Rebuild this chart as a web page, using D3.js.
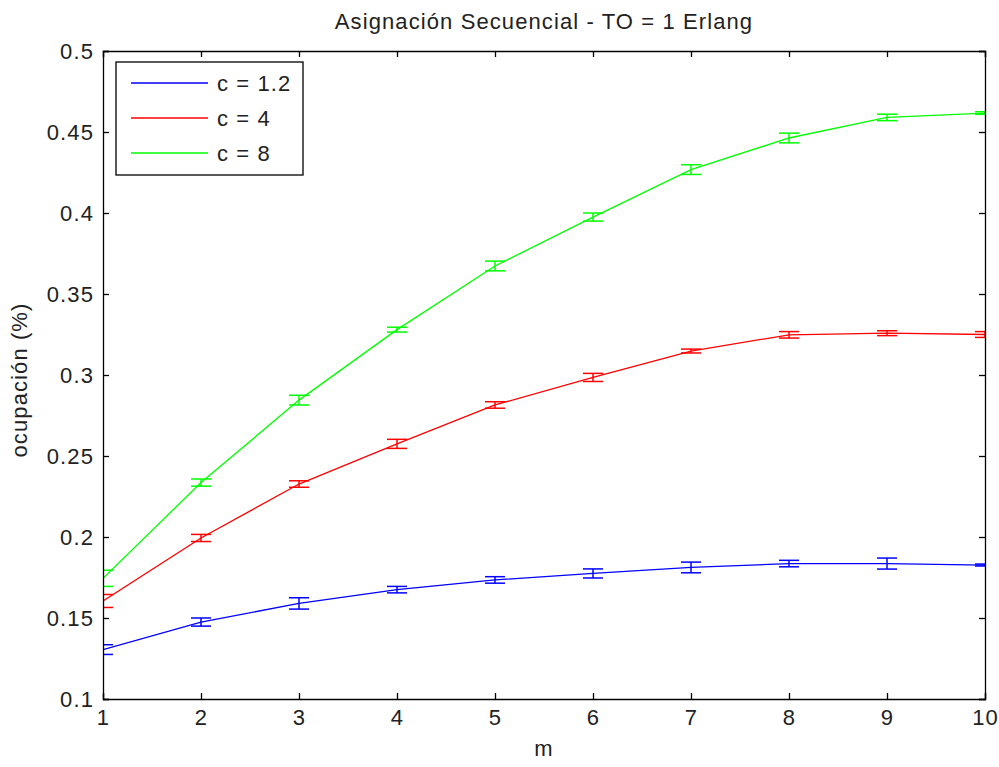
<!DOCTYPE html>
<html>
<head>
<meta charset="utf-8">
<script src="https://cdn.jsdelivr.net/npm/d3@7"></script>
<style>
  body { margin: 0; background: #fff; }
  text { font-family: "Liberation Sans", Arial, sans-serif; fill: #222; letter-spacing: 1.1px; }
</style>
</head>
<body>
<svg id="chart"></svg>
<script>
// data
const mValues = [1, 2, 3, 4, 5, 6, 7, 8, 9, 10];
const seriesNames = ["c = 1.2", "c = 4", "c = 8"];
const seriesColors = ["#0000ff", "#ff0000", "#00ff00"];
const blueMean = [0.1305, 0.1475, 0.159, 0.1675, 0.1735, 0.1775, 0.1812, 0.1836, 0.1836, 0.1827];
const blueErr  = [0.003, 0.0025, 0.0035, 0.002, 0.002, 0.0028, 0.0033, 0.002, 0.0034, 0.0006];
const redMean  = [0.1605, 0.1994, 0.2327, 0.2575, 0.2815, 0.2985, 0.3148, 0.3248, 0.3258, 0.325];
const redErr   = [0.004, 0.0022, 0.002, 0.0028, 0.002, 0.0025, 0.0012, 0.002, 0.0015, 0.0018];
const greenMean = [0.1745, 0.2336, 0.2845, 0.328, 0.3673, 0.3975, 0.4268, 0.4463, 0.459, 0.4617];
const greenErr  = [0.005, 0.0022, 0.003, 0.0015, 0.003, 0.0025, 0.003, 0.003, 0.002, 0.0008];
const xTicks = [1, 2, 3, 4, 5, 6, 7, 8, 9, 10];
const yTicks = [0.1, 0.15, 0.2, 0.25, 0.3, 0.35, 0.4, 0.45, 0.5];

const series = [
  {name: seriesNames[0], color: seriesColors[0], mean: blueMean, err: blueErr},
  {name: seriesNames[1], color: seriesColors[1], mean: redMean, err: redErr},
  {name: seriesNames[2], color: seriesColors[2], mean: greenMean, err: greenErr}
];

const W = 999, H = 767;
const margin = {top: 51, right: 14, bottom: 68, left: 103};
const width = W - margin.left - margin.right;
const height = H - margin.top - margin.bottom;
const fontSize = "22px";

const svg = d3.select("#chart").attr("width", W).attr("height", H);
const g = svg.append("g").attr("transform", "translate(" + margin.left + "," + margin.top + ")");

const x = d3.scaleLinear().domain([1, 10]).range([0, width]);
const y = d3.scaleLinear().domain([0.1, 0.5]).range([height, 0]);

g.append("clipPath").attr("id", "plotclip")
  .append("rect").attr("width", width).attr("height", height);

const plot = g.append("g").attr("clip-path", "url(#plotclip)");

series.forEach(s => {
  const pts = mValues.map((m, i) => ({m: m, v: s.mean[i], e: s.err[i]}));
  plot.append("path")
    .datum(pts)
    .attr("fill", "none")
    .attr("stroke", s.color)
    .attr("stroke-width", 1.3)
    .attr("d", d3.line().x(d => x(d.m)).y(d => y(d.v)));

  // error bars
  const eb = plot.append("g").selectAll("g").data(pts).enter().append("g")
    .attr("stroke", s.color).attr("stroke-width", 1.5);
  eb.append("line")
    .attr("x1", d => x(d.m)).attr("x2", d => x(d.m))
    .attr("y1", d => y(d.v - d.e)).attr("y2", d => y(d.v + d.e));
  eb.append("line")
    .attr("x1", d => x(d.m) - 10).attr("x2", d => x(d.m) + 10)
    .attr("y1", d => y(d.v - d.e)).attr("y2", d => y(d.v - d.e));
  eb.append("line")
    .attr("x1", d => x(d.m) - 10).attr("x2", d => x(d.m) + 10)
    .attr("y1", d => y(d.v + d.e)).attr("y2", d => y(d.v + d.e));
});

// axes (ticks pointing inward, box on all sides)
const fmt = d => String(+d.toFixed(2));
const xAxis = g.append("g").attr("transform", "translate(0," + height + ")")
  .call(d3.axisBottom(x).tickValues(xTicks).tickSize(-6).tickPadding(10).tickFormat(d3.format("d")));
const xTop = g.append("g")
  .call(d3.axisTop(x).tickValues(xTicks).tickSize(-6).tickFormat(""));
const yAxis = g.append("g")
  .call(d3.axisLeft(y).tickValues(yTicks).tickSize(-6).tickPadding(9).tickFormat(fmt));
const yRight = g.append("g").attr("transform", "translate(" + width + ",0)")
  .call(d3.axisRight(y).tickValues(yTicks).tickSize(-6).tickFormat(""));

[xAxis, xTop, yAxis, yRight].forEach(a => {
  a.selectAll(".domain").attr("stroke", "#000").attr("stroke-width", 1.3);
  a.selectAll(".tick line").attr("stroke", "#000").attr("stroke-width", 1.3);
  a.selectAll("text").style("font-size", fontSize).attr("fill", "#222")
    .style("font-family", "'Liberation Sans', Arial, sans-serif");
});

// title and axis labels
svg.append("text").attr("x", margin.left + width / 2).attr("y", 29)
  .attr("text-anchor", "middle").style("font-size", fontSize)
  .text("Asignación Secuencial - TO = 1 Erlang");
svg.append("text").attr("x", margin.left + width / 2).attr("y", 756)
  .attr("text-anchor", "middle").style("font-size", fontSize).text("m");
svg.append("text").attr("transform", "translate(27," + (margin.top + height / 2 + 5) + ") rotate(-90)")
  .attr("text-anchor", "middle").style("font-size", fontSize).text("ocupación (%)");

// legend
const legend = g.append("g").attr("transform", "translate(13,11)");
legend.append("rect").attr("width", 187).attr("height", 113)
  .attr("fill", "#fff").attr("stroke", "#000").attr("stroke-width", 1.3);
series.forEach((s, i) => {
  const ly = 21 + i * 35;
  legend.append("line").attr("x1", 15).attr("x2", 92).attr("y1", ly).attr("y2", ly)
    .attr("stroke", s.color).attr("stroke-width", 1.3);
  legend.append("text").attr("x", 101).attr("y", ly + 8)
    .style("font-size", fontSize).text(s.name);
});
</script>
</body>
</html>
